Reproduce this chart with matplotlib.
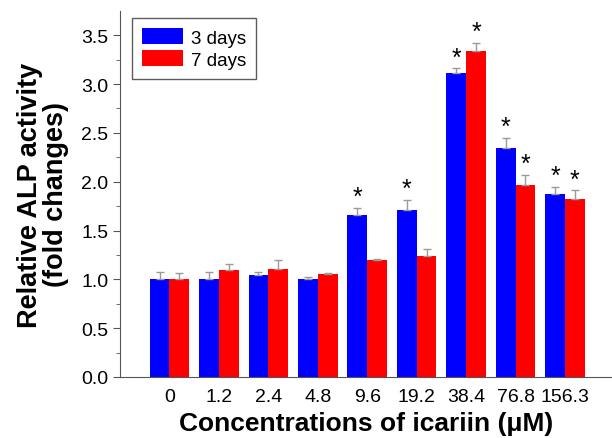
import numpy as np
import matplotlib
matplotlib.use("Agg")
import matplotlib.pyplot as plt

plt.rcParams['font.family'] = ['Liberation Sans', 'DejaVu Sans']

# concentrations of icariin (uM)
concs = ["0", "1.2", "2.4", "4.8", "9.6", "19.2", "38.4", "76.8", "156.3"]
day3 = [1.00, 1.00, 1.04, 1.00, 1.66, 1.71, 3.11, 2.35, 1.87]
day3_err = [0.08, 0.08, 0.04, 0.02, 0.07, 0.10, 0.05, 0.10, 0.08]
day7 = [1.00, 1.10, 1.11, 1.05, 1.20, 1.24, 3.34, 1.97, 1.82]
day7_err = [0.07, 0.06, 0.09, 0.02, 0.01, 0.07, 0.08, 0.10, 0.09]
sig3 = [False, False, False, False, True, True, True, True, True]
sig7 = [False, False, False, False, False, False, True, True, True]

fig = plt.figure(figsize=(6.12, 4.39), dpi=100)
ax = fig.add_axes([0.196, 0.139, 0.804, 0.834])

x = np.arange(len(concs))
w = 0.4
errkw = dict(ecolor='#9a9a9a', capsize=3, elinewidth=1, capthick=1)
ax.bar(x - w/2, day3, w, color='#0000ff', label='3 days',
       yerr=[np.zeros(len(day3)), day3_err], error_kw=errkw)
ax.bar(x + w/2, day7, w, color='#ff0000', label='7 days',
       yerr=[np.zeros(len(day7)), day7_err], error_kw=errkw)

# significance stars
for i in range(len(concs)):
    if sig3[i]:
        ax.text(x[i] - w/2, day3[i] + day3_err[i] - 0.01, '*', ha='center',
                va='bottom', fontsize=18)
    if sig7[i]:
        ax.text(x[i] + w/2, day7[i] + day7_err[i] - 0.01, '*', ha='center',
                va='bottom', fontsize=18)

ax.set_xlim(-1.0, 8.95)
ax.set_ylim(0, 3.75)
ax.set_xticks(x)
ax.set_xticklabels(concs)
ax.set_yticks(np.arange(0, 3.6, 0.5))
ax.set_yticks(np.arange(0.25, 3.6, 0.5), minor=True)
ax.yaxis.set_major_formatter(matplotlib.ticker.FormatStrFormatter('%.1f'))
ax.tick_params(axis='y', which='major', labelsize=14, length=5, color='#555555')
ax.tick_params(axis='y', which='minor', length=3, color='#555555')
ax.tick_params(axis='x', length=0, labelsize=14, pad=8)
for s in ['top', 'right']:
    ax.spines[s].set_visible(False)
for s in ['left', 'bottom']:
    ax.spines[s].set_color('#555555')

ax.set_xlabel('Concentrations of icariin (\u03bcM)', fontsize=19, fontweight='bold', labelpad=4)
ax.set_ylabel('Relative ALP activity\n(fold changes)', fontsize=19.5, fontweight='bold',
              labelpad=9, linespacing=1.0)

leg = ax.legend(loc='upper left', bbox_to_anchor=(0.005, 1.006), fontsize=13.5,
                fancybox=False, edgecolor='#333333', handlelength=2.2,
                handleheight=0.9, borderpad=0.55, labelspacing=0.2,
                handletextpad=0.4)
leg.get_frame().set_linewidth(1.0)

plt.savefig('out.png', dpi=100)
